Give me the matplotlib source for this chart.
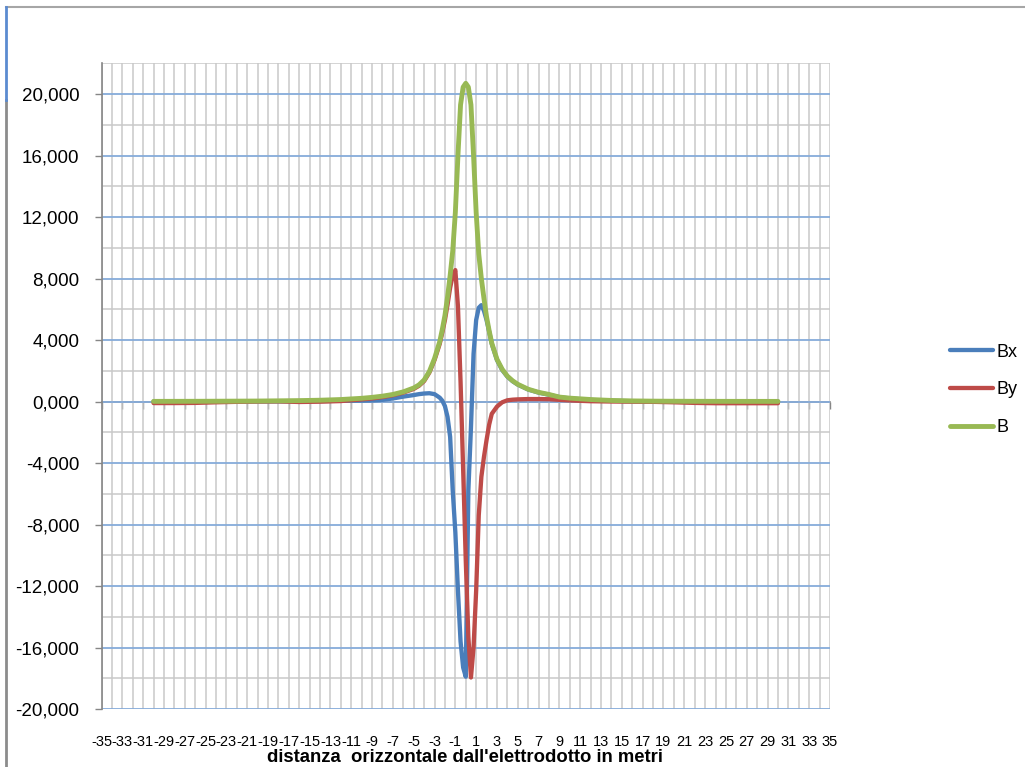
import matplotlib
matplotlib.use("Agg")
import matplotlib.pyplot as plt
from matplotlib.lines import Line2D

# horizontal distance from the power line axis (m)
distanza = [-30, -28, -26, -24, -22, -20, -18, -16, -14, -12, -10,
            -9, -8, -7, -6, -5,
            -4.5, -4, -3.5, -3, -2.5,
            -2.25, -2, -1.75, -1.5, -1.25, -1, -0.75, -0.5, -0.25, 0,
            0.25, 0.5, 0.75, 1, 1.25, 1.5, 1.75, 2, 2.25,
            2.5, 3, 3.5, 4, 4.5,
            5, 6, 7, 8, 9, 10,
            12, 14, 16, 18, 20, 22, 24, 26, 28, 30]

# horizontal component of the magnetic induction (uT)
Bx = [0.000, 0.000, 0.000, 0.000, 0.000, 0.005, 0.010, 0.020, 0.030, 0.050, 0.060,
      0.070, 0.110, 0.200, 0.320, 0.420,
      0.480, 0.520, 0.540, 0.480, 0.250,
      0.050, -0.300, -1.000, -2.300, -5.800, -8.500, -12.300, -15.600, -17.300, -17.900,
      -5.800, -1.700, 3.100, 5.300, 6.100, 6.270, 5.900, 5.300, 4.550,
      3.750, 2.700, 2.050, 1.620, 1.320,
      1.100, 0.780, 0.580, 0.440, 0.280, 0.200,
      0.100, 0.050, 0.020, 0.010, 0.000, 0.000, 0.000, 0.000, 0.000, 0.000]

# vertical component of the magnetic induction (uT)
By = [-0.100, -0.100, -0.090, -0.050, -0.020, 0.000, 0.010, -0.030, -0.010, 0.030, 0.140,
      0.200, 0.290, 0.410, 0.580, 0.820,
      1.020, 1.330, 1.880, 2.700, 3.750,
      4.500, 5.300, 6.300, 7.400, 8.200, 8.550, 6.200, 1.300, -4.400, -10.300,
      -15.300, -17.950, -16.000, -12.300, -7.400, -4.900, -3.600, -2.500, -1.500,
      -0.800, -0.330, -0.050, 0.080, 0.120,
      0.140, 0.160, 0.160, 0.150, 0.110, 0.070,
      0.020, 0.000, -0.010, -0.020, -0.050, -0.090, -0.110, -0.110, -0.110, -0.110]

# resulting magnetic induction (uT)
B = [0.010, 0.012, 0.015, 0.020, 0.025, 0.032, 0.045, 0.060, 0.085, 0.130, 0.210,
     0.270, 0.350, 0.460, 0.630, 0.880,
     1.080, 1.400, 1.950, 2.800, 3.900,
     4.700, 5.600, 6.800, 8.200, 9.800, 12.300, 16.000, 19.300, 20.450, 20.700,
     20.450, 19.300, 16.000, 12.300, 9.600, 8.000, 6.700, 5.500, 4.600,
     3.800, 2.750, 2.100, 1.650, 1.350,
     1.120, 0.800, 0.600, 0.460, 0.290, 0.220,
     0.130, 0.070, 0.040, 0.025, 0.018, 0.014, 0.012, 0.010, 0.009, 0.008]

x_categorie = list(range(-35, 36))
x_etichette = list(range(-35, 36, 2))
y_tacche = list(range(-20, 21, 4))
y_secondarie = list(range(-18, 23, 4))

plt.rcParams["font.family"] = ["Liberation Sans", "DejaVu Sans"]

COL_BX = "#4A7EBB"
COL_BY = "#BE4B48"
COL_B = "#98B954"
GRID_BLU = "#86ABDA"
GRID_GRIGIO = "#C9C9C9"
ASSE = "#868686"

W, H = 1025, 767
fig = plt.figure(figsize=(W / 100, H / 100), dpi=100)
fig.patch.set_facecolor("white")

x0, x1, yt, yb = 101.5, 830.0, 63.3, 709.0
ax = fig.add_axes([x0 / W, 1 - yb / H, (x1 - x0) / W, (yb - yt) / H])

stile = dict(solid_capstyle="round", solid_joinstyle="round")
ax.plot(distanza, Bx, color=COL_BX, lw=3.1, label="Bx", zorder=3, **stile)
ax.plot(distanza, By, color=COL_BY, lw=3.1, label="By", zorder=4, **stile)
ax.plot(distanza, B, color=COL_B, lw=3.5, label="B", zorder=5, **stile)

ax.set_xlim(-35, 35)
ax.set_ylim(-20, 22)

# category grid: one vertical line per metre, labels every two metres
ax.set_xticks(x_etichette)
ax.set_xticklabels([str(v) for v in x_etichette], fontsize=10.5)
ax.set_xticks(x_categorie, minor=True)
ax.tick_params(axis="x", which="both", length=0, pad=19)

ax.set_yticks(y_tacche)
ax.set_yticklabels([f"{v:.3f}".replace(".", ",") for v in y_tacche], fontsize=13.5)
ax.set_yticks(y_secondarie, minor=True)
ax.tick_params(axis="y", which="major", length=5, width=1, color=ASSE, direction="out", pad=11)
ax.tick_params(axis="y", which="minor", length=0)

ax.grid(True, axis="x", which="both", color=GRID_GRIGIO, lw=1.1)
ax.grid(True, axis="y", which="major", color=GRID_BLU, lw=1.3)
ax.grid(True, axis="y", which="minor", color=GRID_GRIGIO, lw=1.1)
ax.set_axisbelow(True)

for s in ("top", "right", "bottom"):
    ax.spines[s].set_visible(False)
ax.spines["left"].set_color(ASSE)
ax.spines["left"].set_linewidth(1.2)

# horizontal axis line crossing at zero, with its tick marks
sec = ax.secondary_xaxis(20 / 42)
sec.set_xticks(x_etichette)
sec.tick_params(axis="x", which="both", bottom=True, top=False, length=5, width=1,
                color=ASSE, direction="out", labelbottom=False, labeltop=False)
for s in ("top", "bottom"):
    sec.spines[s].set_color(ASSE)
    sec.spines[s].set_linewidth(1.2)

fig.text(465 / W, 1 - 758 / H, "distanza  orizzontale dall'elettrodotto in metri",
         ha="center", va="center", fontsize=13.3, fontweight="bold")

ax.legend(loc="center left", bbox_to_anchor=(950 / W, 1 - 390 / H),
          bbox_transform=fig.transFigure, frameon=False, fontsize=13,
          handlelength=2.4, handletextpad=0.2, labelspacing=1.15,
          borderpad=0, borderaxespad=0)

# chart-area frame
fig.add_artist(Line2D([6 / W, 1], [1 - 7 / H, 1 - 7 / H], transform=fig.transFigure,
                      color="#A6A6A6", lw=1.5))
fig.add_artist(Line2D([6 / W, 6 / W], [0, 1 - 100 / H], transform=fig.transFigure,
                      color="#8C8C8C", lw=2.0))
fig.add_artist(Line2D([6 / W, 6 / W], [1 - 100 / H, 1 - 7 / H], transform=fig.transFigure,
                      color="#5B8BD0", lw=2.0))

fig.savefig("out.png", dpi=100)
